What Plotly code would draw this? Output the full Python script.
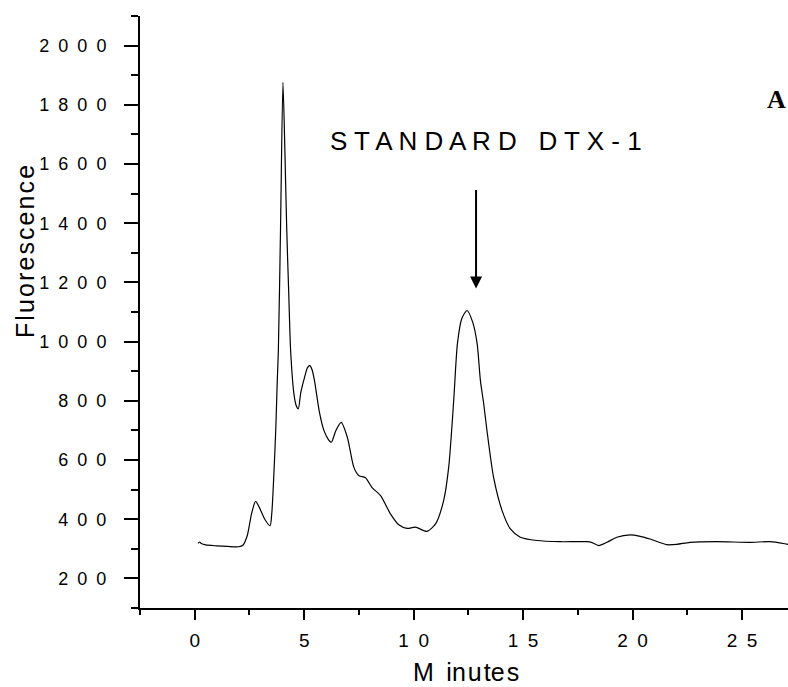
import plotly.graph_objects as go

# Chromatogram trace (minutes, fluorescence)
minutes = [0.15, 0.22, 0.30, 0.50, 1.00, 1.50, 2.00, 2.20, 2.40, 2.60, 2.78, 2.95,
           3.20, 3.44, 3.52, 3.62, 3.70, 3.77, 3.82, 3.92, 4.03, 4.12, 4.20, 4.30,
           4.38, 4.53, 4.63, 4.73, 4.85, 5.02, 5.15, 5.26, 5.36, 5.47, 5.70, 5.90,
           6.10, 6.24, 6.45, 6.69, 6.97, 7.27, 7.50, 7.80, 8.11, 8.49, 8.94, 9.32,
           9.70, 10.08, 10.61, 11.00, 11.37, 11.60, 11.83, 12.00, 12.20, 12.44,
           12.70, 12.90, 13.05, 13.20, 13.35, 13.65, 14.04, 14.42, 14.87, 15.63,
           16.70, 17.91, 18.15, 18.45, 18.83, 19.28, 19.89, 20.30, 20.80, 21.56,
           22.02, 22.63, 23.85, 25.36, 26.28, 27.04, 27.20]
fluorescence = [318, 323, 318, 313, 310, 308, 307, 312, 345, 420, 460, 440,
                400, 378, 420, 560, 700, 868, 970, 1386, 1876, 1640, 1386, 1150,
                970, 824, 785, 773, 830, 880, 912, 919, 905, 868, 760, 700,
                670, 660, 700, 727, 677, 575, 547, 540, 506, 480, 418, 381,
                369, 373, 359, 384, 463, 575, 801, 993, 1078, 1105,
                1065, 993, 868, 790, 699, 542, 429, 367, 339, 328,
                324, 324, 321, 311, 322, 339, 347, 343, 333, 314,
                315, 322, 324, 322, 324, 316, 314]

# Axis ticks
x_tickvals = [0, 5, 10, 15, 20, 25]
x_ticktext = ["0", "5", "1\u20020", "1\u20025", "2\u20020", "2\u20025"]
x_minor = [-2.5, 2.5, 7.5, 12.5, 17.5, 22.5, 27.5]
y_tickvals = [200, 400, 600, 800, 1000, 1200, 1400, 1600, 1800, 2000]
y_ticktext = ["\u2002".join(str(v)) for v in y_tickvals]
y_minor = [100, 300, 500, 700, 900, 1100, 1300, 1500, 1700, 1900, 2100]

# Annotation content
label_text = "S T A N D A R D   D T X - 1"
arrow_x = 12.85
arrow_tail_y = 1517
arrow_tip_y = 1179
panel_label = "A"

fig = go.Figure()
fig.add_trace(go.Scatter(x=minutes, y=fluorescence, mode="lines",
                         line=dict(color="black", width=1.2, shape="spline",
                                   smoothing=0.7),
                         showlegend=False, hoverinfo="skip"))

font_main = "Liberation Sans, Arial, sans-serif"

fig.update_layout(
    width=788, height=687,
    margin=dict(l=140, r=0, t=16, b=79),
    paper_bgcolor="white", plot_bgcolor="white",
    font=dict(family=font_main, color="black"),
    xaxis=dict(range=[-2.5, 27.1], tickmode="array", tickvals=x_tickvals,
               ticktext=x_ticktext, ticks="outside", ticklen=10, tickwidth=2,
               tickcolor="black", showline=True, linewidth=2, linecolor="black",
               showgrid=False, zeroline=False, tickfont=dict(size=19),
               ticklabelstandoff=4,
               minor=dict(tickvals=x_minor, ticks="outside", ticklen=5,
                          tickwidth=2, tickcolor="black", showgrid=False)),
    yaxis=dict(range=[100, 2100], tickmode="array", tickvals=y_tickvals,
               ticktext=y_ticktext, ticks="outside", ticklen=14, tickwidth=2,
               tickcolor="black", showline=True, linewidth=2, linecolor="black",
               showgrid=False, zeroline=False, tickfont=dict(size=18),
               ticklabelstandoff=14,
               minor=dict(tickvals=y_minor, ticks="outside", ticklen=7,
                          tickwidth=2, tickcolor="black", showgrid=False)),
)

# axis titles
fig.add_annotation(text="M\u2002in\u200au\u200ate\u200as", xref="paper", yref="paper",
                   x=0.503, y=-0.108, xanchor="center", yanchor="middle",
                   showarrow=False, font=dict(size=25))
fig.add_annotation(text="\u200a".join("Fluorescence"), xref="paper", yref="paper",
                   x=-0.1775, y=0.603, xanchor="center", yanchor="middle",
                   textangle=-90, showarrow=False, font=dict(size=25))

# label and arrow
fig.add_annotation(text=label_text, x=6.07, y=1679, xref="x", yref="y",
                   xanchor="left", yanchor="middle", showarrow=False,
                   font=dict(size=26))
fig.add_annotation(text="", x=arrow_x, y=arrow_tip_y, ax=arrow_x, ay=arrow_tail_y,
                   xref="x", yref="y", axref="x", ayref="y", showarrow=True,
                   arrowhead=2, arrowsize=1.2, arrowwidth=2, arrowcolor="black",
                   standoff=0)
fig.add_annotation(text="<b>" + panel_label + "</b>", xref="paper", yref="y",
                   x=1.0, y=1818, xanchor="right", yanchor="middle",
                   showarrow=False,
                   font=dict(size=26, family="Liberation Serif, Times New Roman, serif"))

fig.write_html("out.html")
